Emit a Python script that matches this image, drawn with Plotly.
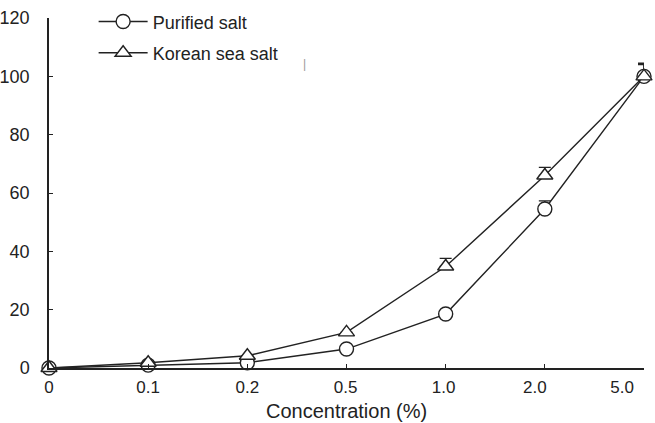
import plotly.graph_objects as go

categories = ["0", "0.1", "0.2", "0.5", "1.0", "2.0", "5.0"]
purified = [0, 1.0, 1.8, 6.5, 18.5, 54.5, 100]
purified_err = [0, 0, 0, 0, 0, 2.8, 4.0]
korean = [0, 1.8, 4.2, 12.2, 34.8, 66.0, 100]
korean_err = [0, 0, 0, 0, 2.8, 2.8, 4.5]
x_title = "Concentration (%)"

xpos = list(range(len(categories)))
# the original's tick labels drift slightly left of their tick marks
label_pos = [0, 1.0, 2.0, 2.99, 3.98, 4.9, 5.78]

fig = go.Figure()
fig.add_trace(go.Scatter(
    x=xpos, y=purified, name="Purified salt", mode="lines+markers",
    line=dict(color="#222", width=1.4),
    marker=dict(symbol="circle", size=14, color="white", line=dict(color="#222", width=1.4)),
    error_y=dict(type="data", symmetric=False, array=purified_err, arrayminus=[0]*7,
                 color="#222", thickness=1.4, width=6),
    cliponaxis=False, legend="legend",
))
fig.add_trace(go.Scatter(
    x=xpos, y=korean, name="Korean sea salt", mode="lines+markers",
    line=dict(color="#222", width=1.4),
    marker=dict(symbol="triangle-up", size=14, color="white", line=dict(color="#222", width=1.4)),
    error_y=dict(type="data", symmetric=False, array=korean_err, arrayminus=[0]*7,
                 color="#222", thickness=1.4, width=6),
    cliponaxis=False, legend="legend2",
))

lfont = dict(size=18, family="Liberation Sans, Arial, sans-serif", color="#222")
font = dict(family="Liberation Sans, Arial, sans-serif", size=18, color="#222")
fig.update_layout(
    width=655, height=423,
    margin=dict(l=49, r=11, t=18, b=55, autoexpand=False),
    plot_bgcolor="white", paper_bgcolor="white",
    font=font,
    showlegend=True,
    legend=dict(x=0.075, y=0.989, xanchor="left", yanchor="middle", bgcolor="rgba(0,0,0,0)",
                font=lfont, itemwidth=49),
    legend2=dict(x=0.075, y=0.9, xanchor="left", yanchor="middle", bgcolor="rgba(0,0,0,0)",
                 font=lfont, itemwidth=49),
    xaxis=dict(
        range=[0, 6], tickmode="array", tickvals=xpos, ticktext=[""]*7,
        showline=True, linecolor="#222", linewidth=1.5,
        ticks="inside", ticklen=4, tickcolor="#222", showgrid=False, zeroline=False,
    ),
    xaxis2=dict(
        range=[0, 6], overlaying="x", side="bottom", tickmode="array",
        tickvals=label_pos, ticktext=categories, showline=False, ticks="",
        showgrid=False, zeroline=False, tickfont=dict(size=17), ticklabelstandoff=7,
    ),
    yaxis=dict(
        range=[0, 120], tickvals=[0, 20, 40, 60, 80, 100, 120],
        showline=True, linecolor="#222", linewidth=1.5,
        ticks="inside", ticklen=4, tickcolor="#222", showgrid=False, zeroline=False,
        tickfont=dict(size=18), ticklabelstandoff=14,
    ),
)
# invisible helper trace so the label axis is drawn
fig.add_trace(go.Scatter(x=[0], y=[0], xaxis="x2", mode="markers",
                         marker=dict(opacity=0), showlegend=False, hoverinfo="skip"))
fig.add_annotation(x=0.5, y=-0.124, xref="paper", yref="paper", text=x_title,
                   showarrow=False, yanchor="middle", borderpad=0,
                   font=dict(size=20, color="#222"))
fig.add_annotation(x=0.43, y=0.894, xref="paper", yref="paper", text="|", showarrow=False,
                   font=dict(size=12, color="#999"))
fig.write_html("out.html")
